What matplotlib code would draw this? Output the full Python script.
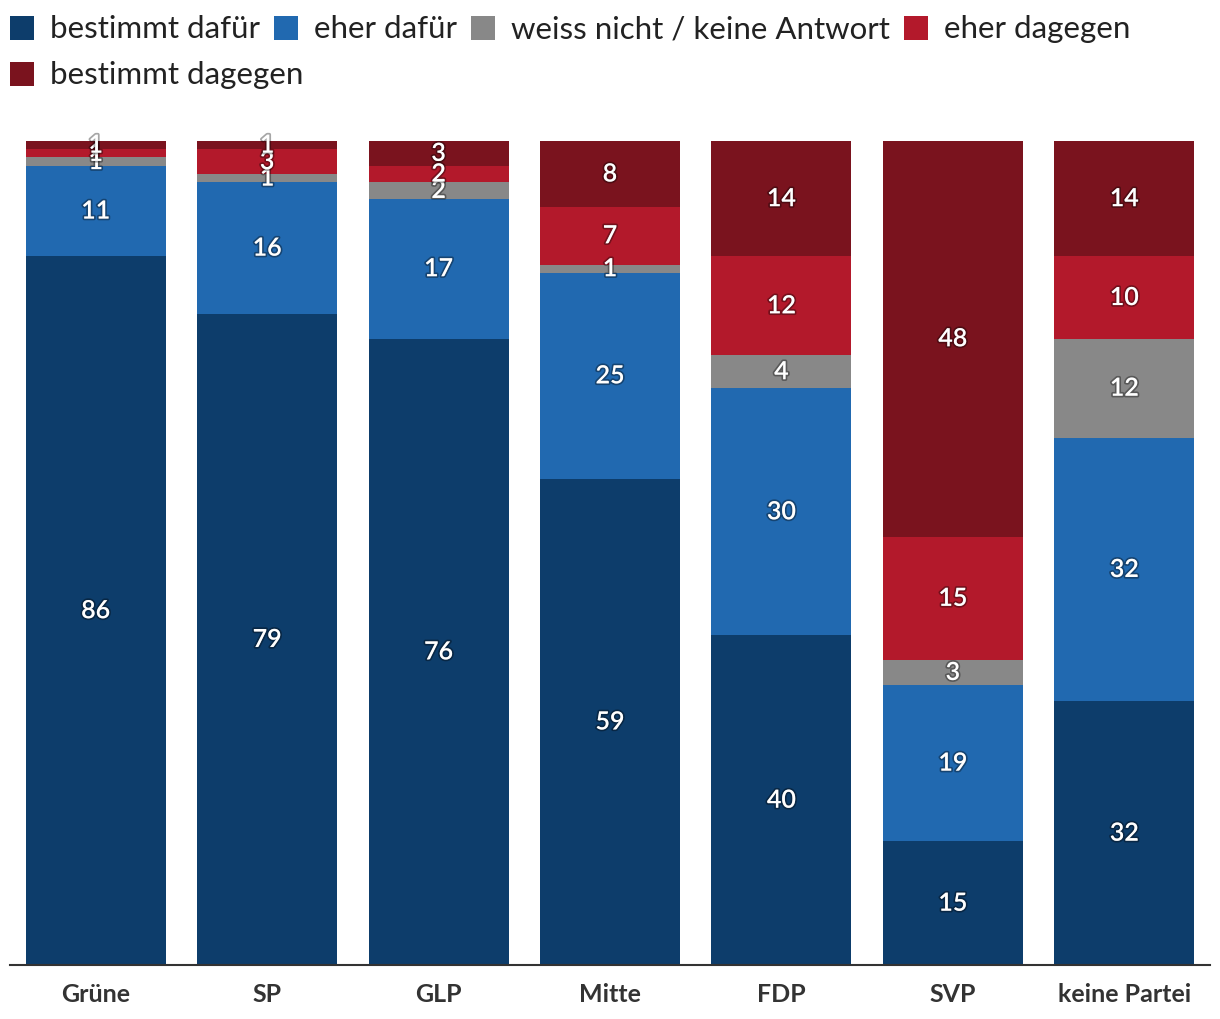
import numpy as np
import matplotlib.pyplot as plt
import matplotlib.patheffects as pe
from matplotlib.patches import Rectangle

plt.rcParams['font.family'] = ['Lato', 'DejaVu Sans']

parties = ['Grüne', 'SP', 'GLP', 'Mitte', 'FDP', 'SVP', 'keine Partei']
categories = ['bestimmt dafür', 'eher dafür', 'weiss nicht / keine Antwort',
              'eher dagegen', 'bestimmt dagegen']
bestimmt_dafuer = [86, 79, 76, 59, 40, 15, 32]
eher_dafuer = [11, 16, 17, 25, 30, 19, 32]
weiss_nicht = [1, 1, 2, 1, 4, 3, 12]
eher_dagegen = [1, 3, 2, 7, 12, 15, 10]
bestimmt_dagegen = [1, 1, 3, 8, 14, 48, 14]
colors = ['#0d3d6b', '#2169b0', '#888888', '#b3192b', '#7a131e']

series = [bestimmt_dafuer, eher_dafuer, weiss_nicht, eher_dagegen, bestimmt_dagegen]

fig = plt.figure(figsize=(12.2, 10.2), dpi=100)
ax = fig.add_axes([10 / 1220, 1 - 966 / 1020, 1200 / 1220, 824 / 1020])

x = np.arange(len(parties))
bottom = np.zeros(len(parties))
shadow = [pe.withStroke(linewidth=2.5, foreground=(0, 0, 0, 0.35))]
for vals, col in zip(series, colors):
    vals = np.array(vals, dtype=float)
    ax.bar(x, vals, bottom=bottom, width=0.817, color=col, linewidth=0)
    for xi, b, v in zip(x, bottom, vals):
        ax.text(xi, b + v / 2, f'{int(v)}', ha='center', va='center',
                color='white', fontsize=18, fontweight='semibold',
                path_effects=shadow)
    bottom += vals

ax.set_xlim(-0.5, 6.5)
ax.set_ylim(0, 100)
ax.set_xticks(x)
ax.set_xticklabels(parties, fontsize=18, fontweight='bold', color='#333333')
ax.tick_params(axis='x', length=0, pad=12)
ax.set_yticks([])
for s in ['top', 'left', 'right']:
    ax.spines[s].set_visible(False)
ax.spines['bottom'].set_color('#333333')
ax.spines['bottom'].set_linewidth(1.5)

# legend, laid out in pixel coordinates (two rows)
fig.canvas.draw()
renderer = fig.canvas.get_renderer()
W, H = 1220, 1020
rows = [categories[:4], categories[4:]]
ycent = [29, 75]
ci = 0
for r, row in enumerate(rows):
    xp = 10
    for name in row:
        fig.patches.append(Rectangle((xp / W, 1 - (ycent[r] + 12) / H), 24 / W, 24 / H,
                                     transform=fig.transFigure, color=colors[ci],
                                     linewidth=0))
        t = fig.text((xp + 40) / W, 1 - ycent[r] / H, name, fontsize=22.5,
                     color='#222222', va='center', ha='left')
        w = t.get_window_extent(renderer).width
        xp += 40 + w + 14
        ci += 1

fig.savefig('out.png', dpi=100)
